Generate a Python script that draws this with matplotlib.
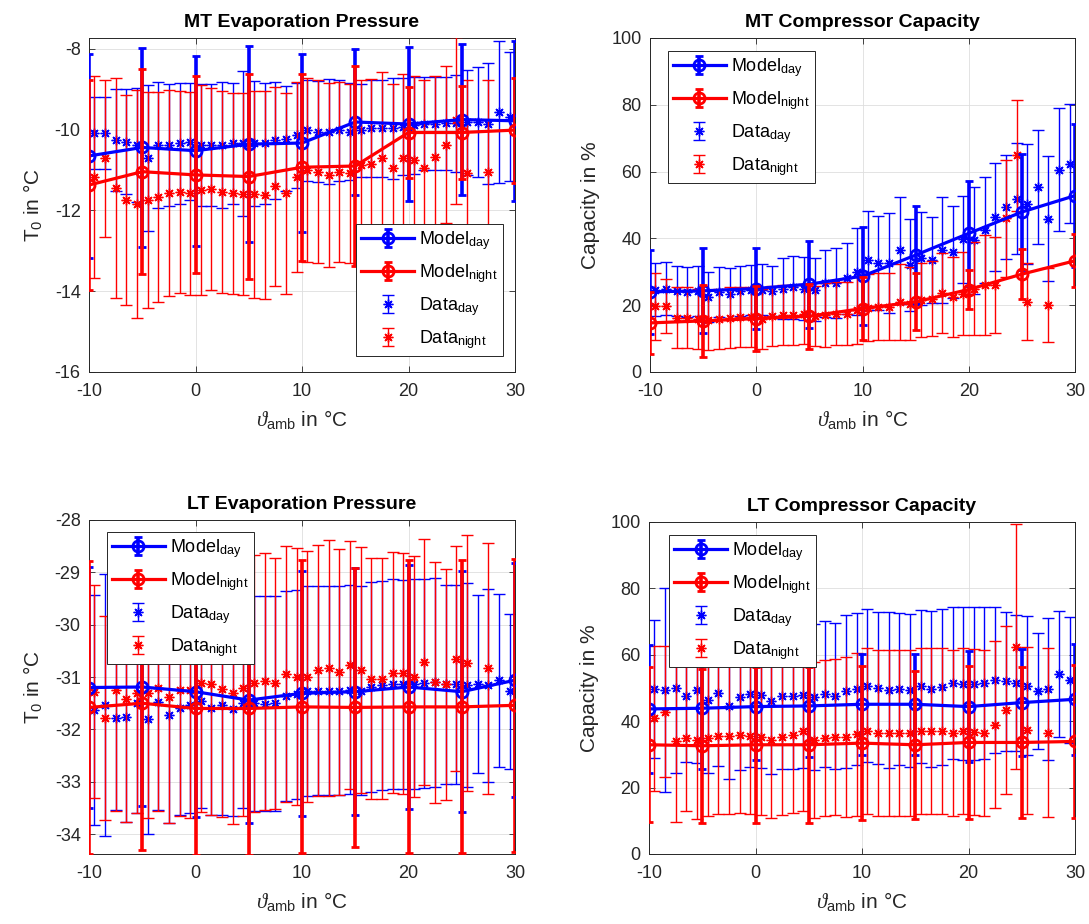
import numpy as np
import matplotlib
matplotlib.use("Agg")
import matplotlib.pyplot as plt

nan = np.nan

plt.rcParams["font.family"] = ["Liberation Sans", "DejaVu Sans"]
plt.rcParams["mathtext.fontset"] = "custom"
plt.rcParams["mathtext.rm"] = "Liberation Sans"
plt.rcParams["mathtext.it"] = "Liberation Serif:italic"
plt.rcParams["mathtext.fallback"] = "stix"
plt.rcParams["axes.unicode_minus"] = False

# ── ambient temperatures ──────────────────────────────────────────────────────
t_model = [-10, -5, 0, 5, 10, 15, 20, 25, 30]
t_data = [-9.5, -8.5, -7.5, -6.5, -5.5, -4.5, -3.5, -2.5, -1.5, -0.5,
          0.5, 1.5, 2.5, 3.5, 4.5, 5.5, 6.5, 7.5, 8.5, 9.5,
          10.5, 11.5, 12.5, 13.5, 14.5, 15.5, 16.5, 17.5, 18.5, 19.5,
          20.5, 21.5, 22.5, 23.5, 24.5, 25.5, 26.5, 27.5, 28.5, 29.5]

# ── MT evaporation pressure (T0 in °C) ───────────────────────────────────────
mt_evap_model_day = [-10.65, -10.44, -10.52, -10.36, -10.33, -9.81, -9.86, -9.75, -9.78]
mt_evap_model_day_err = [2.52, 2.47, 2.35, 2.43, 2.20, 1.80, 1.90, 1.87, 1.98]
mt_evap_model_night = [-11.37, -11.04, -11.12, -11.16, -10.93, -10.90, -10.07, -10.07, -10.01]
mt_evap_model_night_err = [2.60, 2.54, 2.44, 2.54, 2.32, 2.48, 1.13, 1.14, 1.30]
mt_evap_day = [-10.08, -10.08, -10.26, -10.30, -10.38, -10.70, -10.38, -10.38, -10.34, -10.30,
               -10.38, -10.38, -10.38, -10.34, -10.34, -10.34, -10.34, -10.26, -10.22, -10.14,
               -10.01, -10.05, -10.05, -10.01, -10.05, -10.01, -9.97, -9.97, -9.97, -9.93,
               -9.89, -9.85, -9.85, -9.84, -9.84, -9.81, -9.81, -9.85, -9.56, -9.68]
mt_evap_day_err = [0.90, 0.90, 1.27, 1.30, 1.40, 1.80, 1.55, 1.50, 1.50, 1.45,
                   1.50, 1.50, 1.55, 1.50, 1.80, 1.55, 1.50, 1.45, 1.30, 1.30,
                   1.25, 1.25, 1.30, 1.25, 1.20, 1.15, 1.20, 1.20, 1.25, 1.20,
                   1.20, 1.15, 1.15, 1.15, 1.20, 1.30, 1.35, 1.50, 1.75, 1.60]
mt_evap_night = [-11.17, -10.71, -11.45, -11.74, -11.84, -11.74, -11.66, -11.56, -11.54, -11.58,
                 -11.50, -11.48, -11.54, -11.58, -11.59, -11.60, -11.62, -11.40, -11.58, -11.17,
                 -11.00, -11.04, -11.12, -11.04, -11.08, -10.88, -10.84, -10.71, -10.96, -10.71,
                 -10.75, -10.96, -10.67, -10.37, -9.77, -11.08, nan, -11.04, nan, nan]
mt_evap_night_err = [2.50, 1.95, 2.72, 2.60, 2.82, 2.68, 2.60, 2.55, 2.50, 2.52,
                     2.60, 2.50, 2.50, 2.50, 2.50, 2.57, 2.58, 2.46, 2.50, 2.36,
                     2.28, 2.26, 2.28, 2.23, 2.22, 2.10, 2.10, 2.15, 2.10, 2.10,
                     2.07, 2.20, 2.00, 1.95, 2.07, 2.30, nan, 2.27, nan, nan]

# ── MT compressor capacity (%) ───────────────────────────────────────────────
mt_cap_model_day = [24.0, 24.3, 25.0, 26.3, 28.7, 35.0, 41.5, 47.9, 52.8]
mt_cap_model_day_err = [12.5, 12.7, 12.0, 13.0, 14.6, 14.7, 15.7, 17.3, 21.4]
mt_cap_model_night = [14.7, 15.3, 16.0, 16.7, 19.0, 21.0, 24.7, 29.3, 33.3]
mt_cap_model_night_err = [9.3, 10.8, 9.7, 9.7, 9.3, 8.5, 5.8, 7.5, 7.9]
mt_cap_day = [24.7, 25.0, 24.3, 24.0, 24.3, 22.5, 24.0, 23.5, 24.3, 24.5,
              24.7, 24.3, 25.0, 25.3, 25.0, 24.7, 26.5, 26.7, 28.0, 30.0,
              33.5, 32.7, 32.7, 36.5, 32.0, 34.0, 33.5, 36.5, 36.0, 39.7,
              39.5, 42.5, 46.4, 49.4, 51.9, 50.4, 55.4, 45.9, 60.6, 62.4]
mt_cap_day_err = [7.8, 7.8, 7.5, 7.5, 7.5, 7.5, 7.5, 7.5, 7.5, 7.5,
                  7.5, 7.5, 9.0, 9.5, 9.5, 9.5, 10.0, 10.5, 10.5, 13.0,
                  14.8, 14.0, 15.0, 16.0, 13.7, 14.0, 12.8, 15.8, 13.7, 13.0,
                  16.0, 16.0, 16.3, 15.5, 16.6, 18.0, 17.0, 18.7, 18.5, 17.8]
mt_cap_night = [19.7, 19.7, 16.3, 16.3, 16.0, 15.5, 16.0, 16.3, 16.5, 16.5,
                16.0, 16.7, 17.0, 17.0, 17.3, 16.7, 17.0, 17.5, 17.5, 18.5,
                19.3, 19.5, 19.5, 21.0, 20.5, 21.5, 22.0, 23.7, 22.5, 23.5,
                25.0, 26.0, 26.0, 46.0, 64.9, 21.0, nan, 20.0, nan, nan]
mt_cap_night_err = [10.0, 8.0, 9.0, 9.0, 9.0, 9.0, 9.0, 9.0, 9.0, 9.0,
                    9.0, 9.0, 9.0, 9.0, 9.0, 9.0, 9.5, 9.5, 9.5, 10.0,
                    10.0, 10.0, 10.0, 11.3, 11.0, 11.0, 11.3, 12.0, 12.0, 12.5,
                    14.0, 15.0, 14.3, 17.5, 16.6, 11.5, nan, 11.0, nan, nan]

# ── LT evaporation pressure (T0 in °C) ───────────────────────────────────────
lt_evap_model_day = [-31.20, -31.19, -31.28, -31.44, -31.31, -31.28, -31.19, -31.28, -31.06]
lt_evap_model_day_err = [2.31, 2.28, 2.39, 2.35, 2.34, 2.36, 2.33, 2.30, 2.23]
lt_evap_model_night = [-31.58, -31.50, -31.60, -31.60, -31.57, -31.58, -31.57, -31.57, -31.54]
lt_evap_model_night_err = [2.80, 2.80, 2.80, 2.80, 2.80, 2.66, 2.80, 2.80, 2.80]
lt_evap_day = [-31.63, -31.54, -31.79, -31.77, -31.50, -31.80, -31.48, -31.73, -31.59, -31.54,
               -31.46, -31.59, -31.54, -31.61, -31.50, -31.50, -31.51, -31.50, -31.36, -31.33,
               -31.27, -31.26, -31.26, -31.26, -31.24, -31.26, -31.19, -31.16, -31.13, -31.14,
               -31.13, -31.12, -31.10, -31.14, -31.14, -31.15, -31.14, -31.16, -31.06, -31.27]
lt_evap_day_err = [2.20, 2.50, 1.75, 2.00, 2.10, 2.20, 2.05, 2.05, 2.05, 2.05,
                   2.05, 2.05, 2.10, 2.05, 2.00, 2.05, 2.05, 2.05, 2.00, 2.00,
                   2.00, 2.00, 2.00, 2.00, 2.00, 2.00, 2.00, 2.00, 2.00, 2.00,
                   2.00, 2.00, 2.00, 1.90, 1.90, 1.95, 1.70, 1.85, 1.65, 1.48]
lt_evap_night = [-31.28, -31.79, -31.25, -31.42, -31.30, -31.30, -31.20, -31.39, -31.25, -31.25,
                 -31.12, -31.14, -31.22, -31.30, -31.20, -31.12, -31.08, -31.12, -30.94, -30.99,
                 -30.99, -30.87, -30.83, -30.90, -30.77, -30.87, -31.03, -31.03, -30.92, -30.93,
                 -30.99, -30.71, -31.10, -31.14, -30.65, -30.73, nan, -30.83, nan, nan]
lt_evap_night_err = [2.03, 1.95, 2.30, 2.35, 2.30, 2.40, 2.35, 2.40, 2.40, 2.45,
                     2.45, 2.50, 2.45, 2.50, 2.45, 2.45, 2.45, 2.40, 2.45, 2.45,
                     2.40, 2.40, 2.45, 2.35, 2.37, 2.35, 2.30, 2.30, 2.30, 2.30,
                     2.30, 2.35, 2.30, 2.20, 2.15, 2.45, nan, 2.40, nan, nan]

# ── LT compressor capacity (%) ───────────────────────────────────────────────
lt_cap_model_day = [43.7, 43.9, 44.4, 44.6, 45.1, 45.1, 44.4, 45.6, 46.6]
lt_cap_model_day_err = [19.3, 18.4, 16.0, 15.4, 15.2, 15.2, 16.6, 16.2, 16.7]
lt_cap_model_night = [32.9, 32.6, 32.9, 32.9, 33.4, 32.9, 33.6, 33.6, 33.9]
lt_cap_model_night_err = [23.4, 23.2, 23.5, 23.5, 23.3, 22.3, 23.0, 22.7, 23.0]
lt_cap_day = [49.7, 49.5, 50.0, 47.7, 49.3, 46.5, 48.5, 44.6, 47.3, 48.3,
              48.0, 46.0, 47.7, 47.5, 48.0, 47.3, 48.3, 47.5, 49.0, 49.7,
              50.7, 50.0, 49.3, 49.7, 49.3, 50.5, 49.7, 50.3, 51.5, 51.3,
              51.3, 51.5, 52.5, 52.0, 51.5, 50.7, 49.0, 49.7, 54.3, 52.5]
lt_cap_day_err = [20.7, 30.7, 25.7, 20.0, 22.0, 22.0, 22.0, 22.0, 22.0, 22.0,
                  22.0, 22.0, 22.0, 22.0, 22.0, 22.0, 22.0, 22.0, 23.0, 23.0,
                  23.0, 23.0, 23.5, 23.0, 23.0, 23.0, 23.5, 23.5, 23.0, 23.0,
                  23.0, 23.0, 22.0, 21.0, 20.5, 21.0, 17.5, 21.5, 19.0, 19.0]
lt_cap_night = [40.9, 42.9, 33.9, 34.9, 34.4, 34.9, 35.4, 35.4, 35.7, 35.4,
                35.2, 34.4, 35.2, 35.7, 36.9, 34.4, 34.9, 35.2, 35.2, 36.0,
                37.0, 36.3, 36.3, 36.3, 36.3, 37.0, 37.0, 37.0, 36.5, 37.0,
                36.7, 36.3, 39.0, 43.4, 62.5, 37.3, nan, 36.5, nan, nan]
lt_cap_night_err = [21.8, 19.8, 24.2, 22.0, 24.0, 23.5, 23.5, 23.5, 23.5, 23.5,
                    23.5, 23.5, 23.5, 23.5, 24.0, 23.5, 23.5, 23.5, 24.0, 24.5,
                    25.0, 25.0, 25.0, 25.0, 25.0, 25.0, 25.0, 25.0, 25.0, 25.0,
                    25.0, 25.0, 25.2, 25.3, 37.0, 25.2, nan, 25.4, nan, nan]

LABELS = [r"Model$_{\mathrm{day}}$", r"Model$_{\mathrm{night}}$",
          r"Data$_{\mathrm{day}}$", r"Data$_{\mathrm{night}}$"]
AX_COL = "#262626"
STAR = (8, 2, 0)


def draw_panel(ax, md, mde, mn, mne, dd, dde, dn, dne):
    h_dd = ax.errorbar(t_data, dd, yerr=dde, color="b", ls="none", marker=STAR,
                       ms=7, mew=1, elinewidth=1, capsize=4, capthick=1, zorder=2)
    h_dn = ax.errorbar(t_data, dn, yerr=dne, color="r", ls="none", marker=STAR,
                       ms=7, mew=1, elinewidth=1, capsize=4, capthick=1, zorder=3)
    h_md = ax.errorbar(t_model, md, yerr=mde, color="b", lw=2.3, marker="o",
                       ms=8, mfc="none", mew=2, elinewidth=2.6, capsize=3,
                       capthick=2.6, zorder=4)
    h_mn = ax.errorbar(t_model, mn, yerr=mne, color="r", lw=2.3, marker="o",
                       ms=8, mfc="none", mew=2, elinewidth=2.6, capsize=3,
                       capthick=2.6, zorder=5)
    ax.set_xlim(-10, 30)
    ax.set_xticks([-10, 0, 10, 20, 30])
    ax.grid(True, color="#dedede", lw=0.6)
    ax.set_axisbelow(True)
    ax.tick_params(direction="in", top=True, right=True, labelsize=13,
                   colors=AX_COL, length=4, width=0.6)
    ax.tick_params(axis="x", pad=8)
    ax.tick_params(axis="y", pad=6)
    for sp in ax.spines.values():
        sp.set_color(AX_COL)
        sp.set_linewidth(0.7)
    ax.set_xlabel(r"$\vartheta_{\mathrm{amb}}$ in °C", fontsize=15,
                  color=AX_COL, labelpad=6)
    return [h_md, h_mn, h_dd, h_dn]


def add_legend(ax, handles, loc, anchor):
    leg = ax.legend(handles, LABELS, loc=loc, bbox_to_anchor=anchor,
                    borderaxespad=0, fontsize=13, handlelength=2.9,
                    handletextpad=0.3, labelspacing=0.55, borderpad=0.3,
                    fancybox=False, framealpha=1, edgecolor=AX_COL)
    leg.get_frame().set_linewidth(0.7)
    leg.set_zorder(10)


fig = plt.figure(figsize=(10.89, 9.24), dpi=100)
W, H = 1089.0, 924.0


def rect(x0, x1, y0, y1):
    return [x0 / W, 1 - y1 / H, (x1 - x0) / W, (y1 - y0) / H]


ax1 = fig.add_axes(rect(89, 515, 38, 372))
hs = draw_panel(ax1, mt_evap_model_day, mt_evap_model_day_err, mt_evap_model_night,
                mt_evap_model_night_err, mt_evap_day, mt_evap_day_err,
                mt_evap_night, mt_evap_night_err)
ax1.set_ylim(-16, -7.73)
ax1.set_yticks([-16, -14, -12, -10, -8])
ax1.set_title("MT Evaporation Pressure", fontsize=14, fontweight="bold", pad=8)
ax1.set_ylabel("T$_0$ in °C", fontsize=15, color=AX_COL, labelpad=8)
add_legend(ax1, hs, "lower right", (0.972, 0.048))

ax2 = fig.add_axes(rect(650, 1075, 38, 372))
hs = draw_panel(ax2, mt_cap_model_day, mt_cap_model_day_err, mt_cap_model_night,
                mt_cap_model_night_err, mt_cap_day, mt_cap_day_err,
                mt_cap_night, mt_cap_night_err)
ax2.set_ylim(0, 100)
ax2.set_yticks([0, 20, 40, 60, 80, 100])
ax2.set_title("MT Compressor Capacity", fontsize=14, fontweight="bold", pad=8)
ax2.set_ylabel("Capacity in %", fontsize=15, color=AX_COL, labelpad=8)
add_legend(ax2, hs, "upper left", (0.042, 0.961))

ax3 = fig.add_axes(rect(89, 515, 520, 854))
hs = draw_panel(ax3, lt_evap_model_day, lt_evap_model_day_err, lt_evap_model_night,
                lt_evap_model_night_err, lt_evap_day, lt_evap_day_err,
                lt_evap_night, lt_evap_night_err)
ax3.set_ylim(-34.38, -28)
ax3.set_yticks([-34, -33, -32, -31, -30, -29, -28])
ax3.set_title("LT Evaporation Pressure", fontsize=14, fontweight="bold", pad=8)
ax3.set_ylabel("T$_0$ in °C", fontsize=15, color=AX_COL, labelpad=8)
add_legend(ax3, hs, "upper left", (0.042, 0.964))

ax4 = fig.add_axes(rect(649, 1075, 522, 854))
hs = draw_panel(ax4, lt_cap_model_day, lt_cap_model_day_err, lt_cap_model_night,
                lt_cap_model_night_err, lt_cap_day, lt_cap_day_err,
                lt_cap_night, lt_cap_night_err)
ax4.set_ylim(0, 100)
ax4.set_yticks([0, 20, 40, 60, 80, 100])
ax4.set_title("LT Compressor Capacity", fontsize=14, fontweight="bold", pad=8)
ax4.set_ylabel("Capacity in %", fontsize=15, color=AX_COL, labelpad=8)
add_legend(ax4, hs, "upper left", (0.047, 0.961))

fig.savefig("out.png", dpi=100, facecolor="white")
